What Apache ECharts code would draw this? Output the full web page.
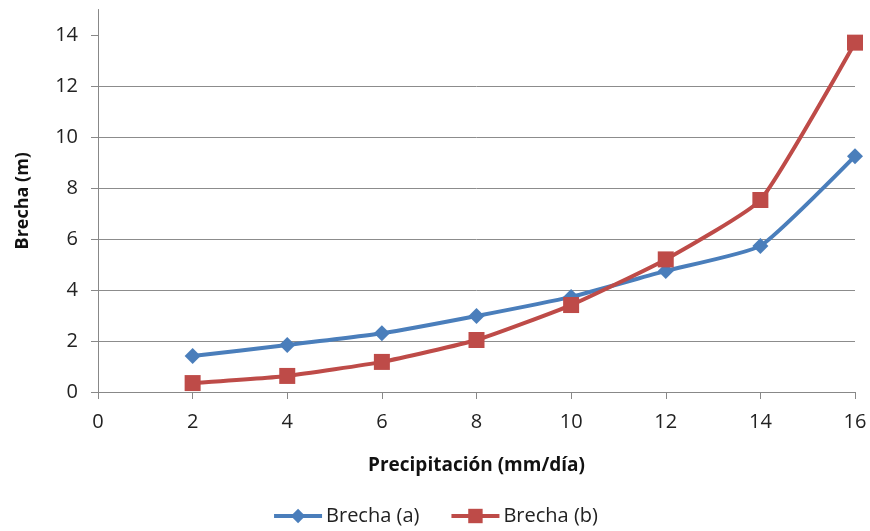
<!DOCTYPE html>
<html>
<head>
<meta charset="utf-8">
<script src="https://cdn.jsdelivr.net/npm/echarts@6/dist/echarts.min.js"></script>
<style>
  html, body { margin: 0; padding: 0; background: #fff; }
  #chart { width: 870px; height: 531px; }
</style>
</head>
<body>
<div id="chart"></div>
<script>
// Precipitation (mm/day) on the x axis
const precip = [2, 4, 6, 8, 10, 12, 14, 16];
// Gap width (m) for each case
const brechaA = [1.41, 1.84, 2.30, 2.98, 3.73, 4.75, 5.73, 9.25];
const brechaB = [0.35, 0.63, 1.18, 2.04, 3.41, 5.20, 7.53, 13.70];
// Axis ticks
const xTicks = [0, 2, 4, 6, 8, 10, 12, 14, 16];
const yTicks = [0, 2, 4, 6, 8, 10, 12, 14];

const font = '"Open Sans", "Noto Sans", sans-serif';
const pairs = (xs, ys) => xs.map((x, i) => [x, ys[i]]);

const chart = echarts.init(document.getElementById('chart'));
chart.setOption({
  animation: false,
  textStyle: { fontFamily: font },
  grid: { left: 98, right: 15, top: 9.5, bottom: 139 },
  xAxis: {
    type: 'value', min: 0, max: 16, interval: 2,
    name: 'Precipitación (mm/día)', nameLocation: 'middle', nameGap: 64,
    nameTextStyle: { fontFamily: font, fontWeight: 'bold', fontSize: 19, color: '#111' },
    axisLine: { show: true, lineStyle: { color: '#888', width: 1 } },
    axisTick: { show: true, length: 7, lineStyle: { color: '#888' }, customValues: xTicks },
    axisLabel: { fontSize: 20, color: '#222', margin: 20, customValues: xTicks },
    splitLine: { show: false }
  },
  yAxis: {
    type: 'value', min: 0, max: 15, interval: 2,
    name: 'Brecha (m)', nameLocation: 'middle', nameGap: 66, nameRotate: 90,
    nameTextStyle: { fontFamily: font, fontWeight: 'bold', fontSize: 18, color: '#111' },
    axisLine: { show: true, lineStyle: { color: '#888', width: 1 } },
    axisTick: { show: true, length: 7, lineStyle: { color: '#888' }, customValues: yTicks },
    axisLabel: { fontSize: 20, color: '#222', margin: 20, customValues: yTicks },
    splitLine: { show: true, showMaxLine: false, lineStyle: { color: '#8c8c8c', width: 1 } }
  },
  legend: {
    bottom: 0, left: 'center', itemGap: 30, itemWidth: 48, itemHeight: 18,
    lineStyle: { width: 4 },
    textStyle: { fontFamily: font, fontSize: 20, color: '#222', padding: [0, 0, 0, -1] },
    data: ['Brecha (a)', 'Brecha (b)']
  },
  series: [
    {
      name: 'Brecha (a)', type: 'line', data: pairs(precip, brechaA),
      smooth: 0.15, symbol: 'diamond', symbolSize: 16,
      lineStyle: { color: '#4A7EBB', width: 4 },
      itemStyle: { color: '#4A7EBB' }
    },
    {
      name: 'Brecha (b)', type: 'line', data: pairs(precip, brechaB),
      smooth: 0.15, symbol: 'rect', symbolSize: 16,
      lineStyle: { color: '#BE4B48', width: 4 },
      itemStyle: { color: '#BE4B48' }
    }
  ]
});
</script>
</body>
</html>
